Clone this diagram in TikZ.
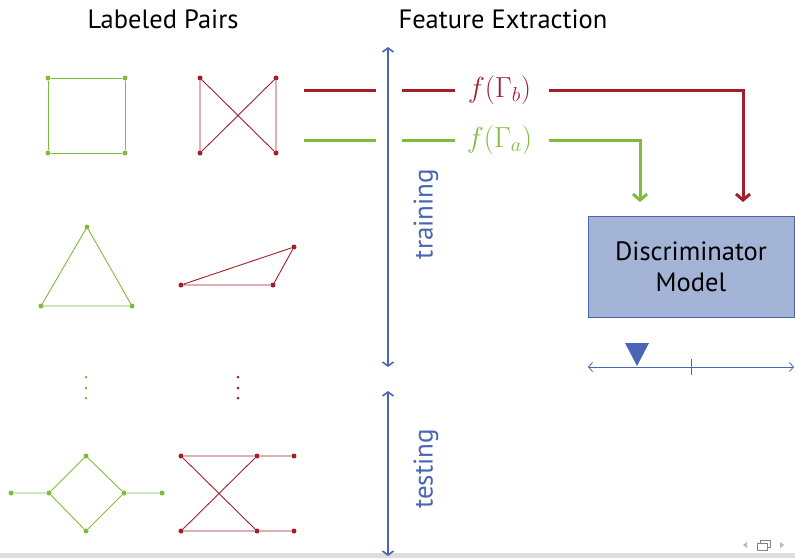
\documentclass[tikz,border=0pt]{standalone}
\usepackage{fix-cm}
\usepackage{fontspec}
\setmainfont{PT Sans}
\usetikzlibrary{arrows.meta}
\definecolor{gr}{HTML}{80BC3C}
\definecolor{rd}{HTML}{A31D2B}
\definecolor{bl}{HTML}{4A65B5}
\definecolor{boxfill}{HTML}{A3B4D7}
\definecolor{navgray}{HTML}{BBBBBB}
\begin{document}
\begin{tikzpicture}[x=1pt,y=-1pt,
  gdot/.style={circle,fill=gr,inner sep=0pt,minimum size=5pt},
  rdot/.style={circle,fill=rd,inner sep=0pt,minimum size=5pt},
  sdot/.style={circle,inner sep=0pt,minimum size=3pt},
  gedge/.style={draw=gr,line width=0.9pt},
  redge/.style={draw=rd,line width=0.9pt},
  gthick/.style={draw=gr,line width=3pt},
  rthick/.style={draw=rd,line width=3pt},
  barb/.style={-{Straight Barb[length=6pt,width=14pt,line width=3pt]}},
  blarrow/.style={draw=bl,line width=1.6pt,{Straight Barb[length=4pt,width=11pt]}-{Straight Barb[length=4pt,width=11pt]}},
  title/.style={font=\fontsize{26.5}{30}\selectfont,text=black},
  flabel/.style={font=\fontsize{29}{32}\selectfont,inner sep=1pt},
  side/.style={font=\fontsize{27}{30}\selectfont,text=bl,rotate=90}
]
\useasboundingbox (0,0) rectangle (795,558);
% bottom bar
\fill[black!13] (0,553) rectangle (795,558);
% titles
\node[title] (t1) at (163,19) {Labeled Pairs};
\node[title] (t2) at (503,19) {Feature Extraction};
% green square
\node[gdot] (s1) at (48,78) {};
\node[gdot] (s2) at (125,78) {};
\node[gdot] (s3) at (125,153) {};
\node[gdot] (s4) at (48,153) {};
\draw[gedge] (s1) -- (s2) -- (s3) -- (s4) -- (s1);
% red X
\node[rdot] (x1) at (200,78) {};
\node[rdot] (x2) at (276,78) {};
\node[rdot] (x3) at (276,153) {};
\node[rdot] (x4) at (200,153) {};
\draw[redge] (x1) -- (x4) (x2) -- (x3) (x1) -- (x3) (x2) -- (x4);
% green triangle
\node[gdot] (g1) at (87,227) {};
\node[gdot] (g2) at (41,306) {};
\node[gdot] (g3) at (132,306) {};
\draw[gedge] (g1) -- (g2) -- (g3) -- (g1);
% red triangle
\node[rdot] (r1) at (181,285) {};
\node[rdot] (r2) at (273,285) {};
\node[rdot] (r3) at (294,247) {};
\draw[redge] (r1) -- (r2) -- (r3) -- (r1);
% vertical dots
\foreach \i/\yy in {1/377,2/388,3/398}{
  \node[sdot,fill=gr] (gd\i) at (86,\yy) {};
  \node[sdot,fill=rd] (rd\i) at (238,\yy) {};
}
% green diamond
\node[gdot] (d1) at (11,493) {};
\node[gdot] (d2) at (49,493) {};
\node[gdot] (d3) at (86,456) {};
\node[gdot] (d4) at (124,493) {};
\node[gdot] (d5) at (86,531) {};
\node[gdot] (d6) at (162,493) {};
\draw[gedge] (d1) -- (d2) -- (d3) -- (d4) -- (d6) (d2) -- (d5) -- (d4);
% red bow
\node[rdot] (b1) at (181,456) {};
\node[rdot] (b2) at (257,456) {};
\node[rdot] (b3) at (294,456) {};
\node[rdot] (b4) at (181,531) {};
\node[rdot] (b5) at (257,531) {};
\node[rdot] (b6) at (294,531) {};
\draw[redge] (b1) -- (b2) -- (b3) (b4) -- (b5) -- (b6) (b1) -- (b5) (b4) -- (b2);
% blue arrows
\coordinate (tr1) at (388,47);
\coordinate (tr2) at (388,367);
\coordinate (te1) at (388,391);
\coordinate (te2) at (388,556);
\draw[blarrow] (tr1) -- (tr2);
\draw[blarrow] (te1) -- (te2);
\node[side] (train) at (426,214) {training};
\node[side] (test) at (426,469) {testing};
% feature lines
\coordinate (ra1) at (304,90);
\coordinate (ra2) at (376,90);
\coordinate (ga1) at (304,140);
\coordinate (ga2) at (376,140);
\coordinate (rb1) at (402,90);
\coordinate (rb2) at (455,90);
\coordinate (gb1) at (402,140);
\coordinate (gb2) at (455,140);
\draw[rthick] (ra1) -- (ra2);
\draw[gthick] (ga1) -- (ga2);
\draw[rthick] (rb1) -- (rb2);
\draw[gthick] (gb1) -- (gb2);
\node[flabel,text=rd] (fb) at (499.5,90) {$f(\Gamma_b)$};
\node[flabel,text=gr] (fa) at (499.5,140) {$f(\Gamma_a)$};
% discriminator
\node[draw=bl,fill=boxfill,line width=0.9pt,minimum width=206pt,minimum height=101pt,
      align=center,font=\fontsize{26.5}{31}\selectfont,inner sep=0pt] (disc) at (691,266.5)
      {Discriminator\\Model};
\coordinate (rc1) at (549,90);
\coordinate (rc2) at (743,90);
\coordinate (gc1) at (549,140);
\coordinate (gc2) at (640,140);
\draw[rthick,barb] (rc1) -- (rc2) -- (743,202);
\draw[gthick,barb] (gc1) -- (gc2) -- (640,202);
% axis
\coordinate (ax1) at (588,367);
\coordinate (ax2) at (794,367);
\draw[draw=bl,line width=0.8pt,{Straight Barb[length=4pt,width=9pt]}-{Straight Barb[length=4pt,width=9pt]}] (ax1) -- (ax2);
\coordinate (tk) at (691,367);
\draw[bl,line width=0.8pt] ([yshift=-8pt]tk) -- ([yshift=8pt]tk);
\coordinate (tip) at (637,366);
\fill[bl] (tip) -- (625,343) -- (649,343) -- cycle;
% nav icons
\fill[navgray] (743,545) -- (747,542) -- (747,548) -- cycle;
\fill[navgray] (784,545) -- (780,542) -- (780,548) -- cycle;
\draw[navgray!70!black,line width=0.7pt,fill=white] (760,540) rectangle (770,547);
\draw[navgray!70!black,line width=0.7pt,fill=white] (757,543) rectangle (767,550);
\end{tikzpicture}
\end{document}
